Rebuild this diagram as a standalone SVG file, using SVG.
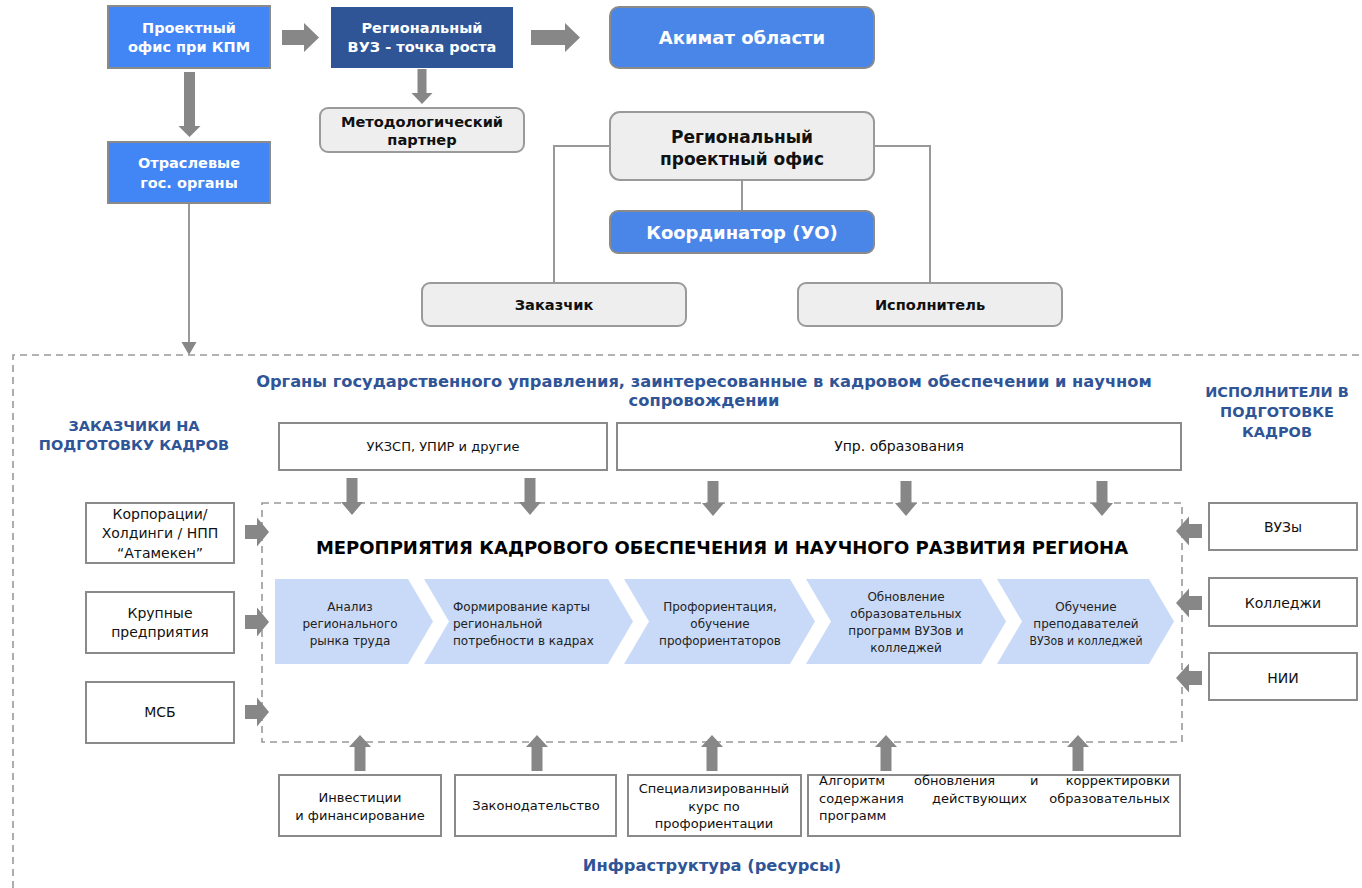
<svg xmlns="http://www.w3.org/2000/svg" width="1362" height="888" viewBox="0 0 1362 888">
<style>
  text { font-family: "DejaVu Sans", Verdana, sans-serif; }
  .wb { fill: #ffffff; font-weight: bold; font-size: 14.5px; text-anchor: middle; }
  .wbl { fill: #ffffff; font-weight: bold; font-size: 18px; text-anchor: middle; }
  .kb { fill: #111111; font-weight: bold; font-size: 14.6px; text-anchor: middle; }
  .kbl { fill: #111111; font-weight: bold; font-size: 17px; text-anchor: middle; }
  .hd { fill: #2F5597; font-weight: bold; font-size: 16.3px; text-anchor: middle; }
  .hc { fill: #2F5597; font-weight: bold; font-size: 14.5px; text-anchor: middle; }
  .t14 { fill: #111111; font-size: 14px; text-anchor: middle; }
  .t13 { fill: #111111; font-size: 13px; text-anchor: middle; }
  .t13s { fill: #111111; font-size: 13px; }
  .ch { fill: #222222; font-size: 12px; text-anchor: middle; }
  .chl { fill: #222222; font-size: 12px; }
  .title { fill: #000000; font-weight: bold; font-size: 18px; text-anchor: middle; }
  .blue { fill: #4285F4; stroke: #8a8a8a; stroke-width: 2; }
  .blue2 { fill: #4A86E8; stroke: #8a8a8a; stroke-width: 2; }
  .dark { fill: #2F5597; }
  .grey { fill: #EEEEEE; stroke: #9a9a9a; stroke-width: 2; }
  .wbox { fill: #ffffff; stroke: #8a8a8a; stroke-width: 2; }
  .arr { fill: #878787; }
  .line { fill: none; stroke: #999999; stroke-width: 2; }
  .dash { fill: none; stroke: #999999; stroke-width: 1.6; stroke-dasharray: 7 5; }
  .chev { fill: #C9DAF8; }
</style>

<g id="frames">
  <path class="dash" d="M13,888 L13,355 L1362,355"/>
  <rect class="dash" x="262" y="503" width="920" height="239"/>
</g>

<g id="connectors">
  <polygon class="arr" points="282,30 304,30 304,23 319,37.5 304,52 304,45 282,45"/>
  <polygon class="arr" points="531,30 565,30 565,23 580,37.5 565,52 565,45 531,45"/>
  <polygon class="arr" points="184,72 195,72 195,126 200.5,126 189.5,137 178.5,126 184,126"/>
  <polygon class="arr" points="417.5,69 426.5,69 426.5,93 432.5,93 422,104 411.5,93 417.5,93"/>
  <path class="line" d="M189,203 L189,343"/>
  <polygon class="arr" points="181.5,342 196.5,342 189,355"/>
  <path class="line" d="M610,146 L554,146 L554,283"/>
  <path class="line" d="M874,146 L930,146 L930,283"/>
  <path class="line" d="M742,180 L742,211"/>
  <polygon class="arr" points="346.5,478 357.5,478 357.5,502 363,502 352,515 341,502 346.5,502"/>
  <polygon class="arr" points="524.5,478 535.5,478 535.5,502 541,502 530,515 519,502 524.5,502"/>
  <polygon class="arr" points="707.5,481 718.5,481 718.5,503 724,503 713,516 702,503 707.5,503"/>
  <polygon class="arr" points="900.5,481 911.5,481 911.5,503 917,503 906,516 895,503 900.5,503"/>
  <polygon class="arr" points="1096.5,481 1107.5,481 1107.5,503 1113,503 1102,516 1091,503 1096.5,503"/>
  <polygon class="arr" points="245,525 257,525 257,517.5 269,532 257,546.5 257,539 245,539"/>
  <polygon class="arr" points="245,615 257,615 257,607.5 269,622 257,636.5 257,629 245,629"/>
  <polygon class="arr" points="245,705 257,705 257,697.5 269,712 257,726.5 257,719 245,719"/>
  <polygon class="arr" points="1202,524 1189,524 1189,516.5 1176,531 1189,545.5 1189,538 1202,538"/>
  <polygon class="arr" points="1202,596 1189,596 1189,588.5 1176,603 1189,617.5 1189,610 1202,610"/>
  <polygon class="arr" points="1202,671 1189,671 1189,663.5 1176,678 1189,692.5 1189,685 1202,685"/>
  <polygon class="arr" points="354.5,771 365.5,771 365.5,747 371,747 360,735 349,747 354.5,747"/>
  <polygon class="arr" points="531.5,771 542.5,771 542.5,747 548,747 537,735 526,747 531.5,747"/>
  <polygon class="arr" points="706.5,771 717.5,771 717.5,747 723,747 712,735 701,747 706.5,747"/>
  <polygon class="arr" points="880.5,771 891.5,771 891.5,747 897,747 886,735 875,747 880.5,747"/>
  <polygon class="arr" points="1072.5,771 1083.5,771 1083.5,747 1089,747 1078,735 1067,747 1072.5,747"/>
</g>

<g id="node-kpm">
  <rect class="blue" x="108" y="6" width="162" height="62"/>
  <text class="wb" x="189" y="33">Проектный</text>
  <text class="wb" x="189" y="52">офис при КПМ</text>
</g>
<g id="node-vuz">
  <rect class="dark" x="331" y="7" width="182" height="61"/>
  <text class="wb" x="422" y="33">Региональный</text>
  <text class="wb" x="422" y="52">ВУЗ - точка роста</text>
</g>
<g id="node-akimat">
  <rect class="blue2" x="610" y="7" width="264" height="61" rx="9"/>
  <text class="wbl" x="742" y="44">Акимат области</text>
</g>
<g id="node-method">
  <rect class="grey" x="320" y="108" width="204" height="44" rx="8"/>
  <text class="kb" x="422" y="127">Методологический</text>
  <text class="kb" x="422" y="145">партнер</text>
</g>
<g id="node-otrasl">
  <rect class="blue" x="108" y="142" width="162" height="61"/>
  <text class="wb" x="189" y="168">Отраслевые</text>
  <text class="wb" x="189" y="188">гос. органы</text>
</g>
<g id="node-rpo">
  <rect class="grey" x="610" y="112" width="264" height="68" rx="10"/>
  <text class="kbl" x="742" y="143">Региональный</text>
  <text class="kbl" x="742" y="165">проектный офис</text>
</g>
<g id="node-coord">
  <rect class="blue2" x="610" y="211" width="264" height="42" rx="8"/>
  <text class="wbl" x="742" y="239">Координатор (УО)</text>
</g>
<g id="node-zakazchik">
  <rect class="grey" x="422" y="283" width="264" height="43" rx="8"/>
  <text class="kb" x="554" y="310">Заказчик</text>
</g>
<g id="node-ispolnitel">
  <rect class="grey" x="798" y="283" width="264" height="43" rx="8"/>
  <text class="kb" x="930" y="310">Исполнитель</text>
</g>

<g id="headers">
  <text class="hd" x="704" y="387">Органы государственного управления, заинтересованные в кадровом обеспечении и научном</text>
  <text class="hd" x="704" y="406">сопровождении</text>
  <text class="hc" x="134" y="431">ЗАКАЗЧИКИ НА</text>
  <text class="hc" x="134" y="450">ПОДГОТОВКУ КАДРОВ</text>
  <text class="hc" x="1277" y="397">ИСПОЛНИТЕЛИ В</text>
  <text class="hc" x="1277" y="417">ПОДГОТОВКЕ</text>
  <text class="hc" x="1277" y="437">КАДРОВ</text>
  <text class="hd" x="712" y="871">Инфраструктура (ресурсы)</text>
</g>

<g id="node-ukzsp">
  <rect class="wbox" x="279" y="423" width="328" height="47"/>
  <text class="t13" x="443" y="451">УКЗСП, УПИР и другие</text>
</g>
<g id="node-upr">
  <rect class="wbox" x="617" y="423" width="564" height="47"/>
  <text class="t14" x="899" y="451">Упр. образования</text>
</g>

<g id="node-activities">
  <text class="title" x="722" y="554">МЕРОПРИЯТИЯ КАДРОВОГО ОБЕСПЕЧЕНИЯ И НАУЧНОГО РАЗВИТИЯ РЕГИОНА</text>
</g>

<g id="node-step1">
  <polygon class="chev" points="275,579 408,579 433,621.5 408,664 275,664"/>
  <text class="ch" x="350" y="611">Анализ</text>
  <text class="ch" x="350" y="628">регионального</text>
  <text class="ch" x="350" y="645">рынка труда</text>
</g>
<g id="node-step2">
  <polygon class="chev" points="424,579 608,579 633,621.5 608,664 424,664 449,621.5"/>
  <text class="chl" x="453" y="611">Формирование карты</text>
  <text class="chl" x="453" y="628">региональной</text>
  <text class="chl" x="453" y="645">потребности в кадрах</text>
</g>
<g id="node-step3">
  <polygon class="chev" points="624,579 790,579 815,621.5 790,664 624,664 649,621.5"/>
  <text class="ch" x="720" y="611">Профориентация,</text>
  <text class="ch" x="720" y="628">обучение</text>
  <text class="ch" x="720" y="645">профориентаторов</text>
</g>
<g id="node-step4">
  <polygon class="chev" points="806,579 981,579 1006,621.5 981,664 806,664 831,621.5"/>
  <text class="ch" x="906" y="601">Обновление</text>
  <text class="ch" x="906" y="618">образовательных</text>
  <text class="ch" x="906" y="635">программ ВУЗов и</text>
  <text class="ch" x="906" y="652">колледжей</text>
</g>
<g id="node-step5">
  <polygon class="chev" points="997,579 1149,579 1174,621.5 1149,664 997,664 1022,621.5"/>
  <text class="ch" x="1086" y="611">Обучение</text>
  <text class="ch" x="1086" y="628">преподавателей</text>
  <text class="ch" x="1086" y="645" textLength="113" lengthAdjust="spacingAndGlyphs">ВУЗов и колледжей</text>
</g>

<g id="node-korp">
  <rect class="wbox" x="86" y="503" width="148" height="60"/>
  <text class="t14" x="160" y="519">Корпорации/</text>
  <text class="t14" x="160" y="538">Холдинги / НПП</text>
  <text class="t14" x="160" y="558">“Атамекен”</text>
</g>
<g id="node-krupnye">
  <rect class="wbox" x="86" y="592" width="148" height="61"/>
  <text class="t14" x="160" y="618">Крупные</text>
  <text class="t14" x="160" y="637">предприятия</text>
</g>
<g id="node-msb">
  <rect class="wbox" x="86" y="682" width="148" height="61"/>
  <text class="t14" x="160" y="717">МСБ</text>
</g>

<g id="node-vuzy">
  <rect class="wbox" x="1209" y="503" width="148" height="47"/>
  <text class="t14" x="1283" y="532">ВУЗы</text>
</g>
<g id="node-colleges">
  <rect class="wbox" x="1209" y="578" width="148" height="48"/>
  <text class="t14" x="1283" y="608">Колледжи</text>
</g>
<g id="node-nii">
  <rect class="wbox" x="1209" y="653" width="148" height="47"/>
  <text class="t14" x="1283" y="683">НИИ</text>
</g>

<g id="node-invest">
  <rect class="wbox" x="279" y="775" width="162" height="61"/>
  <text class="t13" x="360" y="802">Инвестиции</text>
  <text class="t13" x="360" y="820">и финансирование</text>
</g>
<g id="node-law">
  <rect class="wbox" x="455" y="775" width="161" height="61"/>
  <text class="t13" x="536" y="810">Законодательство</text>
</g>
<g id="node-course">
  <rect class="wbox" x="628" y="775" width="173" height="61"/>
  <text class="t13" x="714" y="793">Специализированный</text>
  <text class="t13" x="714" y="811">курс по</text>
  <text class="t13" x="714" y="828">профориентации</text>
</g>
<g id="node-algo">
  <rect class="wbox" x="808" y="775" width="372" height="61"/>
  <text class="t13s" y="785"><tspan x="819">Алгоритм</tspan><tspan x="914">обновления</tspan><tspan x="1030">и</tspan><tspan x="1170" text-anchor="end">корректировки</tspan></text>
  <text class="t13s" y="803"><tspan x="819">содержания</tspan><tspan x="932">действующих</tspan><tspan x="1170" text-anchor="end">образовательных</tspan></text>
  <text class="t13s" y="820"><tspan x="819">программ</tspan></text>
</g>
</svg>
